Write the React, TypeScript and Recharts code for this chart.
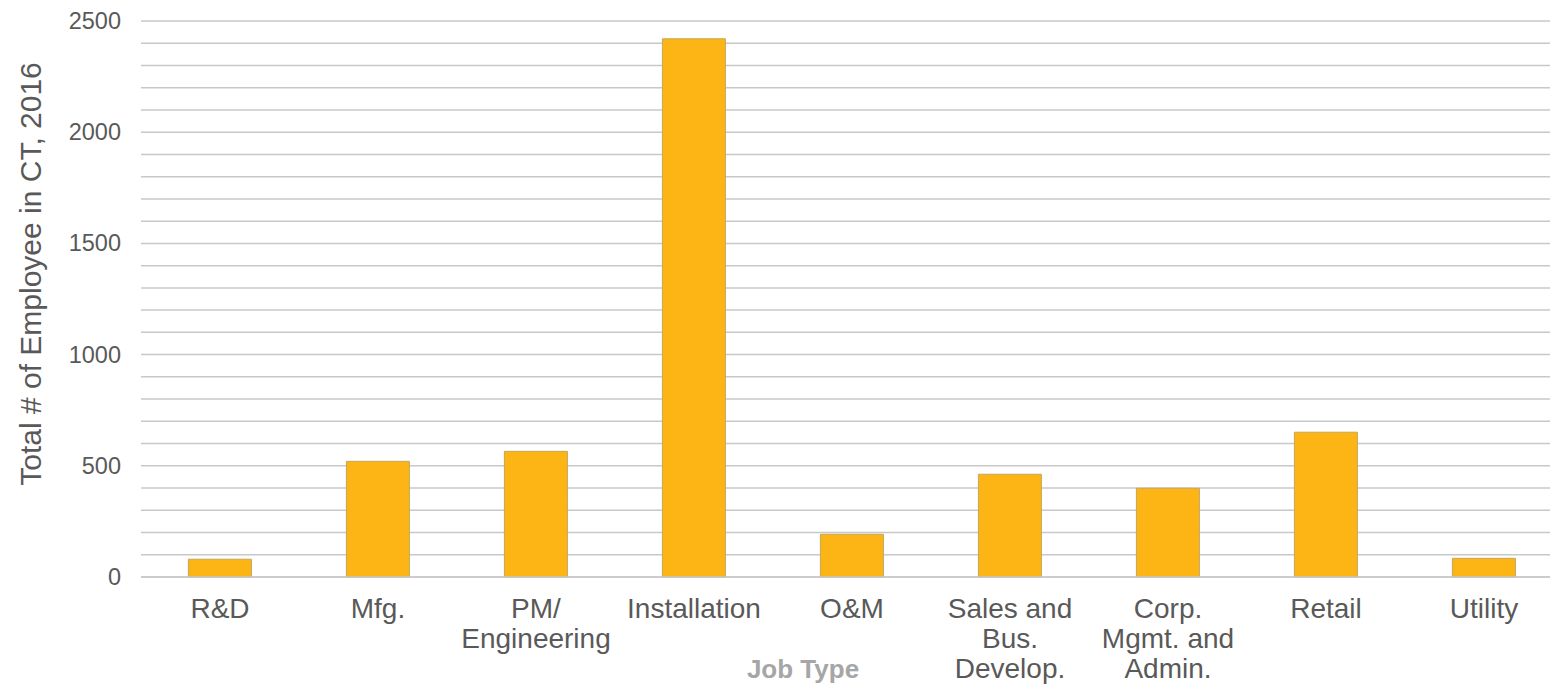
import { BarChart, Bar, XAxis, YAxis, CartesianGrid } from 'recharts';

const categories = [
  'R&D',
  'Mfg.',
  'PM/\nEngineering',
  'Installation',
  'O&M',
  'Sales and\nBus.\nDevelop.',
  'Corp.\nMgmt. and\nAdmin.',
  'Retail',
  'Utility',
];

const employees = [80, 520, 565, 2420, 192, 462, 399, 651, 84];

const gridTicks = [
  0, 100, 200, 300, 400, 500, 600, 700, 800, 900, 1000, 1100, 1200, 1300,
  1400, 1500, 1600, 1700, 1800, 1900, 2000, 2100, 2200, 2300, 2400, 2500,
];
const yTickLabels = [0, 500, 1000, 1500, 2000, 2500];

const data = categories.map((name, i) => ({ name, value: employees[i] }));

const FONT = '"Liberation Sans", Arial, sans-serif';
const TEXT = '#595959';
const GRID = '#c8c8c8';
const BAR = '#FDB515';

function YTick({ x, y, payload }: any) {
  if (!yTickLabels.includes(payload.value)) return <g />;
  return (
    <text x={x} y={y} textAnchor="end" dominantBaseline="central" fill={TEXT} fontSize={23.5} fontFamily={FONT}>
      {payload.value}
    </text>
  );
}

function XTick({ x, y, payload }: any) {
  const lines = String(payload.value).split('\n');
  return (
    <text x={x} y={y} textAnchor="middle" fill={TEXT} fontSize={28} fontFamily={FONT}>
      {lines.map((line, i) => (
        <tspan key={i} x={x} y={y + 41 + i * 30}>
          {line}
        </tspan>
      ))}
    </text>
  );
}

function YLabel({ viewBox }: any) {
  const cx = viewBox.x + 30;
  const cy = viewBox.y + viewBox.height / 2 - 25;
  return (
    <text
      x={cx}
      y={cy}
      transform={`rotate(-90 ${cx} ${cy})`}
      textAnchor="middle"
      dominantBaseline="central"
      fill={TEXT}
      fontSize={30}
      fontFamily={FONT}
    >
      Total # of Employee in CT, 2016
    </text>
  );
}

function XLabel({ viewBox }: any) {
  return (
    <text
      x={viewBox.x + viewBox.width / 2 - 49}
      y={viewBox.y + 101}
      textAnchor="middle"
      fill="#a6a6a6"
      fontSize={26}
      fontWeight="bold"
      fontFamily={FONT}
    >
      Job Type
    </text>
  );
}

export default function App() {
  return (
    <div style={{ position: 'absolute', left: 0, top: 0, width: 1550, height: 685, overflow: 'hidden', background: '#fff' }}>
      <BarChart
        width={1570}
        height={685}
        data={data}
        margin={{ top: 21, right: 7, bottom: 0, left: 0 }}
        barCategoryGap="30%"
      >
        <CartesianGrid vertical={false} stroke={GRID} strokeWidth={1.5} />
        <XAxis
          dataKey="name"
          height={108}
          interval={0}
          tickLine={false}
          tickSize={0}
          tickMargin={0}
          axisLine={{ stroke: GRID, strokeWidth: 1.5 }}
          tick={<XTick />}
          label={<XLabel />}
        />
        <YAxis
          width={141}
          domain={[0, 2500]}
          ticks={gridTicks}
          interval={0}
          axisLine={false}
          tickLine={false}
          tickSize={0}
          tickMargin={20}
          tick={<YTick />}
          label={<YLabel />}
        />
        <Bar dataKey="value" fill={BAR} stroke="#c4a65c" strokeWidth={1} isAnimationActive={false} />
      </BarChart>
    </div>
  );
}
